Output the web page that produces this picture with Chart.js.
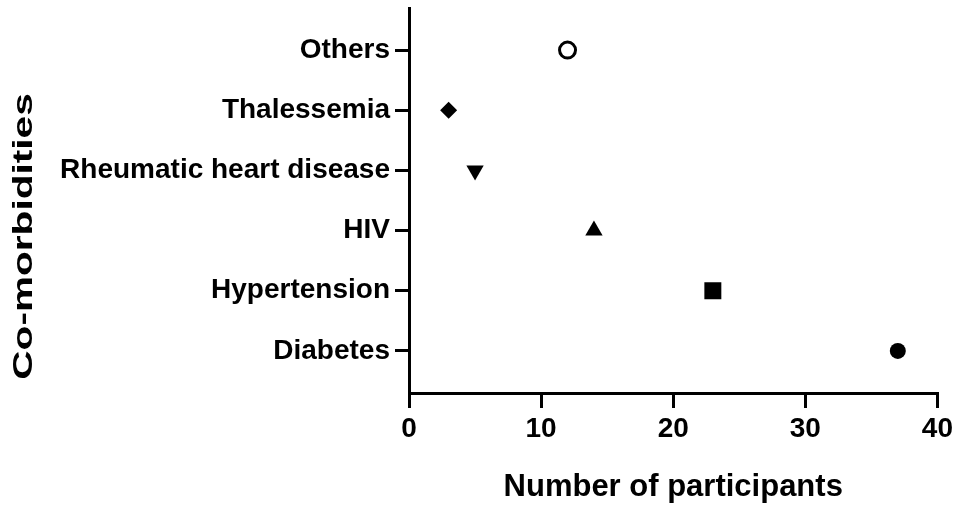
<!DOCTYPE html>
<html>
<head>
<meta charset="utf-8">
<script src="https://cdn.jsdelivr.net/npm/chart.js@4.4.1/dist/chart.umd.min.js"></script>
<style>
  html, body { margin: 0; padding: 0; background: #fff; }
  #wrap { width: 957px; height: 510px; position: relative; }
</style>
</head>
<body>
<div id="wrap"><canvas id="chart"></canvas></div>
<script>
// ---- data ----
const categories = ['Diabetes', 'Hypertension', 'HIV', 'Rheumatic heart disease', 'Thalessemia', 'Others'];
const participants = [37, 23, 14, 5, 3, 12];
const xTicks = [0, 10, 20, 30, 40];
const yTitle = 'Co-morbidities';

// one marker style per category (GraphPad-like symbols)
const markerStyle = ['circle', 'rect', 'triangle', 'triangle', 'rectRot', 'circle'];
const markerRotation = [0, 0, 0, 180, 0, 0];
const markerRadius = [8, 12, 10, 10, 8.5, 8];
const markerFill = ['#000', '#000', '#000', '#000', '#000', '#fff'];

const FONT = 'Arial, "Liberation Sans", sans-serif';

const points = categories.map((c, i) => ({ x: participants[i], y: i }));

// y title in the original is stretched along its length, so draw it by hand
const stretchedYTitle = {
    id: 'stretchedYTitle',
    afterDraw(chart) {
        const { ctx, chartArea } = chart;
        ctx.save();
        ctx.font = 'bold 28px ' + FONT;
        ctx.fillStyle = '#000';
        ctx.textAlign = 'center';
        ctx.textBaseline = 'middle';
        ctx.translate(24, (chartArea.top + chartArea.bottom) / 2 + 36);
        ctx.rotate(-Math.PI / 2);
        ctx.scale(1.45, 1);
        ctx.fillText(yTitle, 0, 0);
        ctx.restore();
    }
};

new Chart(document.getElementById('chart'), {
    type: 'scatter',
    data: {
        datasets: [{
            data: points,
            pointStyle: markerStyle,
            rotation: markerRotation,
            pointRadius: markerRadius,
            pointHoverRadius: markerRadius,
            backgroundColor: markerFill,
            borderColor: '#000',
            borderWidth: [0, 0, 0, 0, 0, 3],
        }]
    },
    options: {
        responsive: true,
        maintainAspectRatio: false,
        animation: false,
        layout: { autoPadding: false, padding: { top: 8, right: 19, left: 8, bottom: 0 } },
        plugins: {
            legend: { display: false },
            tooltip: { enabled: false }
        },
        scales: {
            x: {
                type: 'linear',
                min: 0,
                max: 40,
                afterBuildTicks: (axis) => { axis.ticks = xTicks.map(v => ({ value: v })); },
                afterFit: (axis) => { axis.height = 117; },
                title: {
                    display: true,
                    text: 'Number of participants',
                    color: '#000',
                    font: { family: FONT, size: 31, weight: 'bold' },
                    padding: { top: 14 }
                },
                grid: { drawOnChartArea: false, color: '#000', lineWidth: 3, tickLength: 15, tickWidth: 3 },
                border: { color: '#000', width: 3 },
                ticks: { color: '#000', font: { family: FONT, size: 28, weight: 'bold' }, padding: 4, maxRotation: 0 }
            },
            y: {
                type: 'linear',
                min: -0.7,
                max: 5.7,
                afterBuildTicks: (axis) => { axis.ticks = categories.map((c, i) => ({ value: i })); },
                afterFit: (axis) => {
                    axis.width = 401;
                    axis.paddingTop = 0;
                    axis.paddingBottom = 0;
                },
                title: { display: false },
                grid: { drawOnChartArea: false, color: '#000', lineWidth: 3, tickLength: 14, tickWidth: 3 },
                border: { color: '#000', width: 3 },
                ticks: {
                    color: '#000',
                    font: { family: FONT, size: 28, weight: 'bold' },
                    padding: 5,
                    callback: (v) => categories[v]
                }
            }
        }
    },
    plugins: [stretchedYTitle]
});
</script>
</body>
</html>
